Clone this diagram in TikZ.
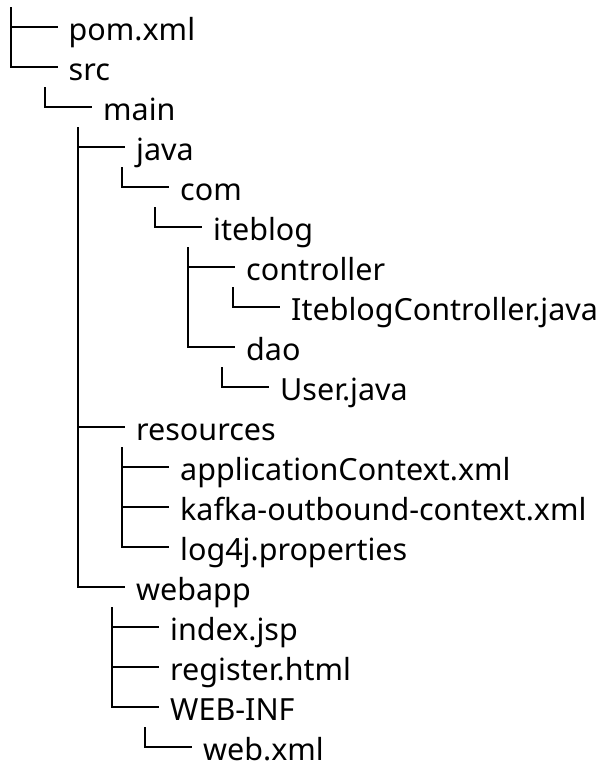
\documentclass[tikz,border=0pt]{standalone}
\usepackage{fontspec}
\setmainfont{Noto Sans}
\begin{document}
\begin{tikzpicture}[x=1pt,y=1pt,
  item/.style={anchor=west, inner sep=0pt, text height=28pt, text depth=2pt, font=\fontsize{30.5}{36}\selectfont},
  branch/.style={line width=2pt, shorten >=11pt}]
\useasboundingbox[fill=white] (0,0) rectangle (606,-764);
% entries (horizontal line of row i at y = -(27+40 i))
\node[item] (pom)   at (68.5,-27)  {pom.xml};
\node[item] (src)   at (68.5,-67)  {src};
\node[item] (main)  at (103,-107)  {main};
\node[item] (java)  at (136,-147)  {java};
\node[item] (com)   at (180,-187)  {com};
\node[item] (itb)   at (213,-227)  {iteblog};
\node[item] (ctrl)  at (246,-267)  {controller};
\node[item] (ictrl) at (291,-307)  {IteblogController.java};
\node[item] (dao)   at (246,-347)  {dao};
\node[item] (user)  at (280,-387)  {User.java};
\node[item] (res)   at (136,-427)  {resources};
\node[item] (app)   at (180,-467)  {applicationContext.xml};
\node[item] (kafka) at (180,-507)  {kafka-outbound-context.xml};
\node[item] (log)   at (180,-547)  {log4j.properties};
\node[item] (web)   at (136,-587)  {webapp};
\node[item] (idx)   at (170,-627)  {index.jsp};
\node[item] (reg)   at (170,-667)  {register.html};
\node[item] (winf)  at (170,-707)  {WEB-INF};
\node[item] (wxml)  at (203,-747)  {web.xml};
% trunk tops
\coordinate (t-root) at (10.5,-7);
\coordinate (t-src)  at (45,-87);
\coordinate (t-main) at (78,-127);
\coordinate (t-java) at (122,-167);
\coordinate (t-com)  at (155,-207);
\coordinate (t-itb)  at (188,-247);
\coordinate (t-ctrl) at (233,-287);
\coordinate (t-dao)  at (222,-367);
\coordinate (t-res)  at (122,-447);
\coordinate (t-web)  at (112,-607);
\coordinate (t-winf) at (145,-727);
% connectors
\draw[branch] (t-root) |- (pom.west);
\draw[branch] (t-root) |- (src.west);
\draw[branch] (t-src)  |- (main.west);
\draw[branch] (t-main) |- (java.west);
\draw[branch] (t-main) |- (res.west);
\draw[branch] (t-main) |- (web.west);
\draw[branch] (t-java) |- (com.west);
\draw[branch] (t-com)  |- (itb.west);
\draw[branch] (t-itb)  |- (ctrl.west);
\draw[branch] (t-itb)  |- (dao.west);
\draw[branch] (t-ctrl) |- (ictrl.west);
\draw[branch] (t-dao)  |- (user.west);
\draw[branch] (t-res)  |- (app.west);
\draw[branch] (t-res)  |- (kafka.west);
\draw[branch] (t-res)  |- (log.west);
\draw[branch] (t-web)  |- (idx.west);
\draw[branch] (t-web)  |- (reg.west);
\draw[branch] (t-web)  |- (winf.west);
\draw[branch] (t-winf) |- (wxml.west);
\end{tikzpicture}
\end{document}
